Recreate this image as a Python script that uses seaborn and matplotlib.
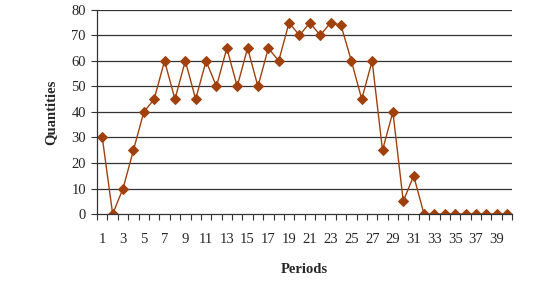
import numpy as np
import pandas as pd
import matplotlib
matplotlib.use("Agg")
import matplotlib.pyplot as plt
import seaborn as sns

periods = list(range(1, 41))
quantities = [30, 0, 10, 25, 40, 45, 60, 45, 60, 45,
              60, 50, 65, 50, 65, 50, 65, 60, 75, 70,
              75, 70, 75, 74, 60, 45, 60, 25, 40, 5,
              15, 0, 0, 0, 0, 0, 0, 0, 0, 0]
x_labels = [str(p) for p in periods if p % 2 == 1]

df = pd.DataFrame({"Periods": periods, "Quantities": quantities})

sns.set_style("white")
plt.rcParams["font.family"] = ["Liberation Serif", "DejaVu Serif"]
plt.rcParams["font.size"] = 10.5

fig = plt.figure(figsize=(5.58, 2.82), dpi=100)
ax = fig.add_axes([0.174, 0.241, 0.744, 0.724])

for y in range(10, 90, 10):
    ax.axhline(y, color="#333333", linewidth=0.9, zorder=0)

sns.lineplot(data=df, x="Periods", y="Quantities", ax=ax,
             color="#a0410d", linewidth=1.0, marker="D", markersize=5,
             markeredgecolor="#a0410d", markerfacecolor="#a0410d")

ax.set_xlim(0.5, 40.5)
ax.set_ylim(0, 80)
ax.set_yticks(range(0, 90, 10))
ax.tick_params(axis="y", direction="out", length=4, width=0.8, pad=4,
               left=True, color="#333333")

ax.set_xticks([p for p in periods if p % 2 == 1])
ax.set_xticklabels(x_labels)
ax.tick_params(axis="x", which="major", length=0, pad=14)
ax.set_xticks(np.arange(0.5, 41, 1), minor=True)
ax.tick_params(axis="x", which="minor", direction="out", length=4,
               width=0.8, bottom=True, color="#333333")

for s in ["top", "right"]:
    ax.spines[s].set_visible(False)
ax.spines["left"].set_color("#333333")
ax.spines["bottom"].set_color("#333333")
ax.spines["left"].set_linewidth(0.9)
ax.spines["bottom"].set_linewidth(0.9)

ax.set_xlabel("Periods", fontweight="bold", labelpad=12)
ax.set_ylabel("Quantities", fontweight="bold", labelpad=10)

fig.savefig("out.png", dpi=100)
